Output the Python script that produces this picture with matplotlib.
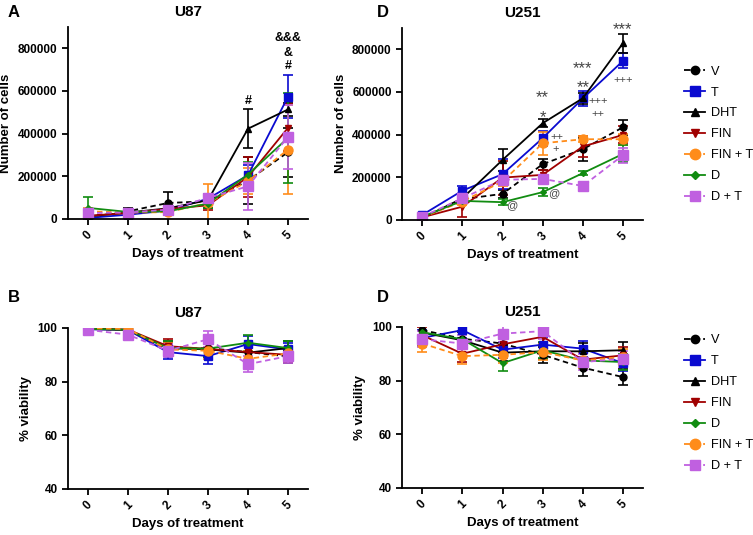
import matplotlib
matplotlib.use("Agg")
import matplotlib.pyplot as plt
from matplotlib.lines import Line2D
import numpy as np

plt.rcParams['font.family'] = ['Liberation Sans', 'DejaVu Sans']
plt.rcParams['font.weight'] = 'bold'

days = [0, 1, 2, 3, 4, 5]

# U87 cell number
u87_V = [12000, 36000, 75000, 83000, 180000, 313000]
u87_V_err = [8000, 15000, 50000, 30000, 110000, 115000]
u87_T = [5000, 20000, 40000, 95000, 205000, 573000]
u87_T_err = [5000, 8000, 10000, 20000, 50000, 100000]
u87_DHT = [12000, 30000, 50000, 88000, 423000, 513000]
u87_DHT_err = [8000, 10000, 15000, 20000, 90000, 30000]
u87_FIN = [15000, 28000, 47000, 64000, 197000, 427000]
u87_FIN_err = [8000, 10000, 12000, 20000, 95000, 110000]
u87_FINT = [36000, 30000, 32000, 75000, 177000, 325000]
u87_FINT_err = [15000, 10000, 12000, 90000, 60000, 210000]
u87_D = [52000, 33000, 36000, 72000, 208000, 380000]
u87_D_err = [50000, 10000, 10000, 20000, 60000, 210000]
u87_DT = [28000, 30000, 44000, 99000, 153000, 385000]
u87_DT_err = [10000, 10000, 10000, 20000, 110000, 150000]

# U251 cell number
u251_V = [8000, 97000, 122000, 261000, 331000, 434000]
u251_V_err = [5000, 12000, 20000, 25000, 55000, 35000]
u251_T = [23000, 137000, 214000, 383000, 569000, 745000]
u251_T_err = [5000, 20000, 70000, 35000, 35000, 35000]
u251_DHT = [8000, 101000, 281000, 453000, 570000, 828000]
u251_DHT_err = [5000, 15000, 50000, 20000, 25000, 45000]
u251_FIN = [12000, 62000, 198000, 211000, 344000, 398000]
u251_FIN_err = [5000, 50000, 80000, 25000, 50000, 40000]
u251_FINT = [12000, 86000, 180000, 359000, 378000, 378000]
u251_FINT_err = [5000, 15000, 20000, 55000, 15000, 25000]
u251_D = [15000, 89000, 83000, 130000, 219000, 309000]
u251_D_err = [5000, 10000, 15000, 20000, 10000, 40000]
u251_DT = [15000, 101000, 188000, 192000, 159000, 303000]
u251_DT_err = [5000, 10000, 10000, 15000, 10000, 35000]

# U87 viability
v87_V = [99.6, 99.3, 92.0, 92.5, 91.0, 89.4]
v87_T = [99.5, 99.2, 91.0, 89.5, 94.0, 92.0]
v87_DHT = [99.8, 99.3, 92.5, 92.0, 90.8, 92.5]
v87_FIN = [99.6, 99.4, 93.2, 92.2, 91.0, 90.0]
v87_D = [99.7, 99.3, 92.5, 92.3, 94.5, 92.5]
v87_FINT = [99.9, 99.6, 92.0, 91.5, 88.5, 90.5]
v87_DT = [99.3, 97.5, 91.5, 95.8, 86.5, 89.5]
v87_err = [0.8, 1.0, 2.5, 3.0, 3.0, 2.5]

# U251 viability
v251_V = [98.8, 95.6, 93.8, 89.6, 84.8, 81.3]
v251_T = [95.9, 98.8, 91.5, 93.4, 91.9, 86.5]
v251_DHT = [97.9, 95.0, 90.4, 90.9, 90.9, 91.3]
v251_FIN = [96.9, 90.0, 93.5, 96.3, 87.8, 89.4]
v251_D = [98.0, 95.4, 86.5, 91.3, 87.5, 86.9]
v251_FINT = [93.8, 89.1, 89.6, 90.6, 87.5, 88.8]
v251_DT = [95.4, 93.8, 97.5, 98.4, 86.9, 88.1]
v251_err = [3.0, 3.0, 3.0, 3.0, 3.0, 3.0]

styles = {
    'V': dict(color='black', ls='--', marker='o', ms=5),
    'T': dict(color='#0a0ad0', ls='-', marker='s', ms=5.5),
    'DHT': dict(color='black', ls='-', marker='^', ms=5),
    'FIN': dict(color='#a00000', ls='-', marker='v', ms=5),
    'FIN + T': dict(color='#ff8c1a', ls='--', marker='o', ms=6.5),
    'D': dict(color='#118c11', ls='-', marker='D', ms=3),
    'D + T': dict(color='#c060e0', ls='--', marker='s', ms=6.5),
}


def draw(ax, series, order):
    for name in order:
        y, err = series[name]
        st = styles[name]
        ax.errorbar(days, y, yerr=err, color=st['color'], ls=st['ls'], marker=st['marker'],
                    ms=st['ms'], lw=1.3, elinewidth=1.2, capsize=3.5, capthick=1.2,
                    dashes=(3, 2) if st['ls'] == '--' else (None, None))


def legend_handles(order):
    hs = []
    for name in order:
        st = styles[name]
        hs.append(Line2D([], [], color=st['color'], ls=st['ls'], marker=st['marker'],
                         ms=st['ms'] + 1, lw=1.3, label=name))
    return hs


def style_axes(ax, title, ylabel, ylim, yticks):
    ax.set_xlim(-0.5, 5.5)
    ax.set_ylim(*ylim)
    ax.set_yticks(yticks)
    ax.set_xticks(days)
    ax.set_xticklabels([str(d) for d in days], rotation=45, fontsize=8.5, fontweight='bold')
    for lab in ax.get_yticklabels():
        lab.set_fontsize(8.5)
        lab.set_fontweight('bold')
    ax.spines['top'].set_visible(False)
    ax.spines['right'].set_visible(False)
    ax.spines['left'].set_linewidth(1.3)
    ax.spines['bottom'].set_linewidth(1.3)
    ax.tick_params(width=1.3, length=4)
    ax.set_title(title, fontsize=11, fontweight='bold', pad=8)
    ax.set_xlabel('Days of treatment', fontsize=9.5, fontweight='bold')
    ax.set_ylabel(ylabel, fontsize=9.5, fontweight='bold')


fig = plt.figure(figsize=(7.53, 5.35), dpi=100)
axA = fig.add_axes([0.0903, 0.5907, 0.3187, 0.359])
axC = fig.add_axes([0.534, 0.589, 0.320, 0.359])
axB = fig.add_axes([0.0903, 0.086, 0.3187, 0.301])
axD = fig.add_axes([0.534, 0.088, 0.320, 0.301])

top_order = ['V', 'T', 'DHT', 'FIN', 'FIN + T', 'D', 'D + T']
bot_order = ['V', 'T', 'DHT', 'FIN', 'D', 'FIN + T', 'D + T']

draw(axA, {'V': (u87_V, u87_V_err), 'T': (u87_T, u87_T_err), 'DHT': (u87_DHT, u87_DHT_err),
           'FIN': (u87_FIN, u87_FIN_err), 'FIN + T': (u87_FINT, u87_FINT_err),
           'D': (u87_D, u87_D_err), 'D + T': (u87_DT, u87_DT_err)}, top_order)
draw(axC, {'V': (u251_V, u251_V_err), 'T': (u251_T, u251_T_err), 'DHT': (u251_DHT, u251_DHT_err),
           'FIN': (u251_FIN, u251_FIN_err), 'FIN + T': (u251_FINT, u251_FINT_err),
           'D': (u251_D, u251_D_err), 'D + T': (u251_DT, u251_DT_err)}, top_order)
draw(axB, {'V': (v87_V, v87_err), 'T': (v87_T, v87_err), 'DHT': (v87_DHT, v87_err),
           'FIN': (v87_FIN, v87_err), 'FIN + T': (v87_FINT, v87_err),
           'D': (v87_D, v87_err), 'D + T': (v87_DT, v87_err)}, bot_order)
draw(axD, {'V': (v251_V, v251_err), 'T': (v251_T, v251_err), 'DHT': (v251_DHT, v251_err),
           'FIN': (v251_FIN, v251_err), 'FIN + T': (v251_FINT, v251_err),
           'D': (v251_D, v251_err), 'D + T': (v251_DT, v251_err)}, bot_order)

cell_ticks = [0, 200000, 400000, 600000, 800000]
style_axes(axA, 'U87', 'Number of cells', (0, 900000), cell_ticks)
style_axes(axC, 'U251', 'Number of cells', (0, 900000), cell_ticks)
style_axes(axB, 'U87', '% viability', (40, 100), [40, 60, 80, 100])
style_axes(axD, 'U251', '% viability', (40, 100), [40, 60, 80, 100])

for ax in (axA, axC, axB, axD):
    ax.yaxis.set_major_formatter(matplotlib.ticker.FormatStrFormatter('%d'))

# significance marks
axA.text(4, 540000, '#', ha='center', fontsize=9)
axA.text(5, 705000, '#', ha='center', fontsize=9)
axA.text(5, 765000, '&', ha='center', fontsize=9)
axA.text(5, 835000, '&&&', ha='center', fontsize=9)

grey = '#444444'
axC.text(5, 870000, '***', ha='center', fontsize=12, fontweight='normal', color=grey)
axC.text(4, 690000, '***', ha='center', fontsize=12, fontweight='normal', color=grey)
axC.text(4, 600000, '**', ha='center', fontsize=12, fontweight='normal', color=grey)
axC.text(3, 550000, '**', ha='center', fontsize=12, fontweight='normal', color=grey)
axC.text(3, 460000, '*', ha='center', fontsize=12, fontweight='normal', color=grey)
axC.text(5, 640000, '+++', ha='center', fontsize=8, fontweight='normal', color=grey)
axC.text(4.38, 545000, '+++', ha='center', fontsize=8, fontweight='normal', color=grey)
axC.text(4.38, 480000, '++', ha='center', fontsize=8, fontweight='normal', color=grey)
axC.text(3.35, 375000, '++', ha='center', fontsize=8, fontweight='normal', color=grey)
axC.text(3.33, 318000, '+', ha='center', fontsize=8, fontweight='normal', color=grey)
axC.text(2.22, 55000, '@', ha='center', fontsize=8, fontweight='normal', color=grey)
axC.text(3.27, 110000, '@', ha='center', fontsize=8, fontweight='normal', color=grey)

fig.text(0.010, 0.99, 'A', fontsize=12, fontweight='bold', va='top')
fig.text(0.500, 0.99, 'D', fontsize=12, fontweight='bold', va='top')
fig.text(0.010, 0.458, 'B', fontsize=12, fontweight='bold', va='top')
fig.text(0.500, 0.458, 'D', fontsize=12, fontweight='bold', va='top')

leg_kw = dict(frameon=False, handlelength=1.6, labelspacing=0.7,
              handletextpad=0.5, borderaxespad=0,
              prop={'size': 9.2, 'weight': 'normal'})
axC.legend(handles=legend_handles(top_order), loc='upper left', bbox_to_anchor=(1.15, 0.83), **leg_kw)
axD.legend(handles=legend_handles(bot_order), loc='upper left', bbox_to_anchor=(1.15, 0.985), **leg_kw)

fig.savefig('out.png', dpi=100)
